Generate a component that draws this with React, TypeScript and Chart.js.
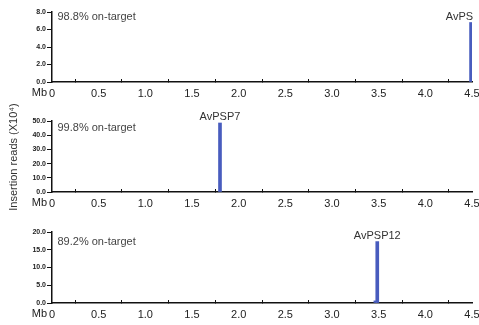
import React, { useEffect, useRef } from "react";
import { Chart, registerables } from "chart.js";

Chart.register(...registerables);

// ---- data ----
const xTickMin = 0;
const xTickMax = 4.5;
const xTickStep = 0.5;

const panelNames = ["AvPS", "AvPSP7", "AvPSP12"];
const panelOnTarget = ["98.8% on-target", "99.8% on-target", "89.2% on-target"];
const panelYMax = [8, 50, 20];
const panelYStep = [2, 10, 5];

const positions1 = [4.49];
const reads1 = [6.8];
const positions2 = [1.8];
const reads2 = [48.6];
const positions3 = [3.465, 3.485];
const reads3 = [0.6, 17.3];

const yTitle = "Insertion reads (X10\u2074)";
const xUnit = "Mb";

const FONT = "'Liberation Sans', Arial, Helvetica, sans-serif";
const BAR_COLOR = "rgb(72, 92, 190)";
const AXIS_COLOR = "#111";

type PanelCfg = {
  top: number;
  height: number;
  padTop: number;
  xHeight: number;
  textOffset: number;
  labelAlign: CanvasTextAlign;
  labelDx: number;
  showTitle: boolean;
};

const layouts: PanelCfg[] = [
  { top: 0, height: 100, padTop: 12, xHeight: 18, textOffset: 5, labelAlign: "right", labelDx: 2, showTitle: false },
  { top: 96, height: 120, padTop: 25, xHeight: 24, textOffset: 6.5, labelAlign: "center", labelDx: 0, showTitle: true },
  { top: 216, height: 109, padTop: 16, xHeight: 22, textOffset: 10, labelAlign: "center", labelDx: 0, showTitle: false },
];

function Panel({ idx, positions, reads }: { idx: number; positions: number[]; reads: number[] }) {
  const ref = useRef<HTMLCanvasElement | null>(null);
  const cfg = layouts[idx];
  useEffect(() => {
    if (!ref.current) return;
    const data = positions.map((x, i) => ({ x, y: reads[i] }));
    let peak = 0;
    reads.forEach((v, i) => {
      if (v > reads[peak]) peak = i;
    });
    const annot = {
      id: "annot" + idx,
      afterDraw(chart: any) {
        const ctx = chart.ctx;
        const area = chart.chartArea;
        const xs = chart.scales.x;
        ctx.save();
        // on-target text
        ctx.font = `11px ${FONT}`;
        ctx.fillStyle = "#444";
        ctx.textAlign = "left";
        ctx.textBaseline = "middle";
        ctx.fillText(panelOnTarget[idx], area.left + 5.5, area.top + cfg.textOffset);
        // peak label
        const el = chart.getDatasetMeta(0).data[peak];
        if (el) {
          ctx.fillStyle = "#333";
          ctx.textAlign = cfg.labelAlign;
          ctx.textBaseline = "alphabetic";
          ctx.fillText(panelNames[idx], el.x + cfg.labelDx, el.y - 3);
        }
        // Mb unit
        ctx.fillStyle = "#222";
        ctx.textAlign = "right";
        ctx.textBaseline = "top";
        ctx.fillText(xUnit, area.left - 5, xs.top + 5);
        // y title
        if (cfg.showTitle) {
          ctx.translate(14, 157 - cfg.top);
          ctx.rotate(-Math.PI / 2);
          ctx.textAlign = "center";
          ctx.textBaseline = "middle";
          ctx.fillStyle = "#333";
          ctx.fillText(yTitle, 0, 0);
        }
        ctx.restore();
      },
    };
    const chart = new Chart(ref.current, {
      type: "bar",
      data: {
        datasets: [
          {
            data: data as any,
            backgroundColor: BAR_COLOR,
            borderWidth: 0,
            barThickness: 3,
          },
        ],
      },
      options: {
        animation: false,
        responsive: false,
        maintainAspectRatio: false,
        events: [],
        layout: { padding: { top: cfg.padTop, left: 0, right: 7, bottom: 0 } },
        plugins: { legend: { display: false }, tooltip: { enabled: false }, title: { display: false } },
        scales: {
          x: {
            type: "linear",
            min: xTickMin,
            max: xTickMax,
            offset: false,
            border: { display: true, color: AXIS_COLOR, width: 1.5 },
            grid: { drawOnChartArea: false, drawTicks: true, tickLength: -3, color: AXIS_COLOR, lineWidth: 1 },
            ticks: {
              stepSize: xTickStep,
              padding: 8,
              color: "#222",
              font: { family: FONT, size: 11 },
              maxRotation: 0,
              autoSkip: false,
              callback: (v: any) => (Number(v) === 0 ? "0" : Number(v).toFixed(1)),
            },
            afterFit: (s: any) => {
              s.height = cfg.xHeight;
              s.paddingLeft = 0;
              s.paddingRight = 0;
            },
          },
          y: {
            min: 0,
            max: panelYMax[idx],
            border: { display: true, color: AXIS_COLOR, width: 1.5 },
            grid: { drawOnChartArea: false, drawTicks: true, tickLength: 5, color: AXIS_COLOR, lineWidth: 1 },
            ticks: {
              stepSize: panelYStep[idx],
              padding: 1,
              color: "#222",
              font: { family: FONT, size: 7, weight: "bold" },
              callback: (v: any) => Number(v).toFixed(1),
            },
            afterFit: (s: any) => {
              s.width = 52;
            },
          },
        },
      },
      plugins: [annot],
    });
    return () => chart.destroy();
  }, []);
  return (
    <canvas
      ref={ref}
      width={479}
      height={cfg.height}
      style={{ position: "absolute", left: 0, top: cfg.top, width: 479, height: cfg.height }}
    />
  );
}

export default function App() {
  return (
    <div style={{ position: "fixed", left: 0, top: 0, width: 479, height: 325, background: "#fff" }}>
      <Panel idx={0} positions={positions1} reads={reads1} />
      <Panel idx={1} positions={positions2} reads={reads2} />
      <Panel idx={2} positions={positions3} reads={reads3} />
    </div>
  );
}
